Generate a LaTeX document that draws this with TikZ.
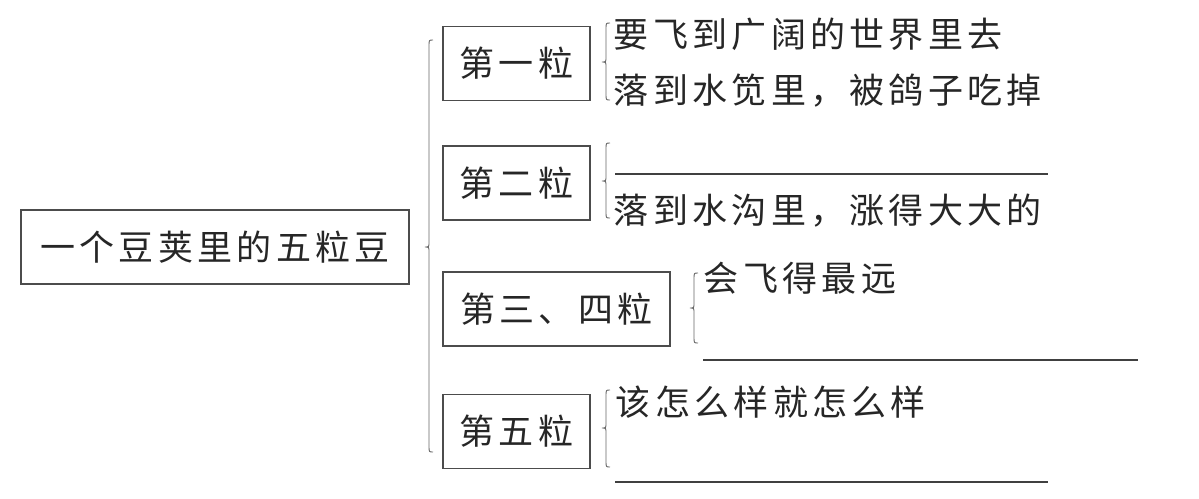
\documentclass[tikz,border=0pt]{standalone}
\usepackage{fontspec}
\newfontfamily\cjk{Noto Sans CJK SC}
\makeatletter
\def\spc#1{\spc@a#1\@nil}
\def\spc@a#1{\ifx#1\@nil\else\makebox[39.3pt]{#1}\expandafter\spc@a\fi}
\makeatother
\newcommand\mybrace[4]{% x, top, mid, bottom
  \draw[bracestyle] ({#1+4},#2) .. controls (#1,#2) .. (#1,{#2+6}) -- (#1,{#3-5})
    .. controls (#1,#3) .. ({#1-4},#3) .. controls (#1,#3) .. (#1,{#3+5})
    -- (#1,{#4-6}) .. controls (#1,#4) .. ({#1+4},#4);}
\begin{document}
\begin{tikzpicture}[x=1pt,y=-1pt,
  txt/.style={font=\cjk\fontsize{35}{40}\selectfont, text=black!85, inner sep=0pt},
  box/.style={txt, draw=black!70, line width=1.3pt, minimum height=74pt},
  bracestyle/.style={draw=black!60, line width=0.9pt},
  blank/.style={draw=black!75, line width=1.3pt}]
\useasboundingbox[fill=white] (0,0) rectangle (1199,498);
% main box
\node[box, minimum width=388pt] (main) at (215,247) {\spc{一个豆荚里的五粒豆}};
\mybrace{429}{40}{247}{452}
% second-level boxes
\node[box, minimum width=147pt] (b1) at (516.5,63.5) {\spc{第一粒}};
\node[box, minimum width=147pt] (b2) at (516.5,183) {\spc{第二粒}};
\node[box, minimum width=227pt] (b3) at (556.5,309) {\spc{第三、四粒}};
\node[box, minimum width=147pt] (b5) at (516.5,431.5) {\spc{第五粒}};
% braces
\mybrace{606}{23}{62}{100}
\mybrace{606}{143}{181}{218}
\mybrace{694}{273}{308}{343}
\mybrace{606}{390}{428}{467}
% texts
\node[txt, anchor=west] (t1a) at (611.5,34) {\spc{要飞到广阔的世界里去}};
\node[txt, anchor=west] (t1b) at (611.5,91) {\spc{落到水笕里，被鸽子吃掉}};
\coordinate (l2a) at (615,174); \coordinate (l2b) at (1048,174);
\draw[blank] (l2a) -- (l2b);
\node[txt, anchor=west] (t2b) at (611.5,211) {\spc{落到水沟里，涨得大大的}};
\node[txt, anchor=west] (t3a) at (701.5,278) {\spc{会飞得最远}};
\coordinate (l3a) at (703,360); \coordinate (l3b) at (1138,360);
\draw[blank] (l3a) -- (l3b);
\node[txt, anchor=west] (t4a) at (613.5,402) {\spc{该怎么样就怎么样}};
\coordinate (l4a) at (615,482); \coordinate (l4b) at (1048,482);
\draw[blank] (l4a) -- (l4b);
\end{tikzpicture}
\end{document}
